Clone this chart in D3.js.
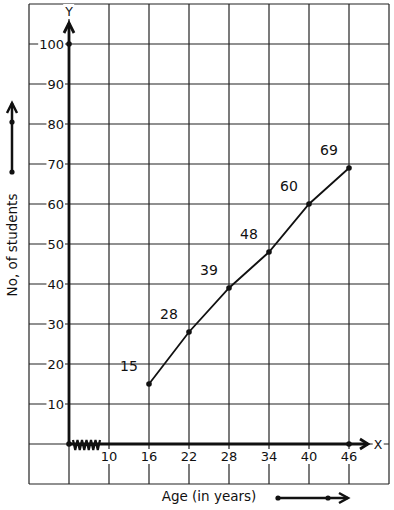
<!DOCTYPE html>
<html>
<head>
<meta charset="utf-8">
<script src="https://cdn.jsdelivr.net/npm/d3@7"></script>
<style>
  body { margin: 0; background: #fff; }
  svg { display: block; font-family: 'DejaVu Sans', sans-serif; }
</style>
</head>
<body>
<svg></svg>
<script>
'use strict';
// Chart data
var ages = [16, 22, 28, 34, 40, 46];
var students = [15, 28, 39, 48, 60, 69];
var xTickLabels = [10, 16, 22, 28, 34, 40, 46];
var yTickLabels = [10, 20, 30, 40, 50, 60, 70, 80, 90, 100];
var xGridValues = [-2, 4, 10, 16, 22, 28, 34, 40, 46, 52];
var yGridValues = [-10, 0, 10, 20, 30, 40, 50, 60, 70, 80, 90, 100, 110];

var canvasWidth = 394;
var canvasHeight = 510;
var ink = '#111';

var svg = d3.select('svg')
  .attr('width', canvasWidth)
  .attr('height', canvasHeight);

var xScale = d3.scaleLinear().domain([-2, 52]).range([29, 389]);
var yScale = d3.scaleLinear().domain([-10, 110]).range([484, 4]);

// grid paper
var grid = svg.append('g').attr('stroke', '#222').attr('stroke-width', 1.2);
grid.selectAll('line.v').data(xGridValues).enter().append('line')
  .attr('class', 'v')
  .attr('x1', function(d) { return xScale(d); })
  .attr('x2', function(d) { return xScale(d); })
  .attr('y1', yScale(110)).attr('y2', yScale(-10));
grid.selectAll('line.h').data(yGridValues).enter().append('line')
  .attr('class', 'h')
  .attr('y1', function(d) { return yScale(d); })
  .attr('y2', function(d) { return yScale(d); })
  .attr('x1', xScale(-2)).attr('x2', xScale(52));

// helper: text with a white box behind it so grid lines are hidden
function boxedText(parent, x, y, txt, anchor, size) {
  var g = parent.append('g');
  var r = g.append('rect').attr('fill', '#fff');
  var t = g.append('text')
    .attr('x', x).attr('y', y)
    .attr('text-anchor', anchor)
    .attr('font-size', size)
    .attr('fill', ink)
    .text(txt);
  var b = t.node().getBBox();
  r.attr('x', b.x - 1).attr('y', b.y).attr('width', b.width + 2).attr('height', b.height);
  return g;
}

// y tick labels
yTickLabels.forEach(function(v) {
  boxedText(svg, xScale(4) - 5, yScale(v) + 4.5, v, 'end', 13);
});
// x tick labels
xTickLabels.forEach(function(v) {
  boxedText(svg, xScale(v), yScale(0) + 17, v, 'middle', 13);
});
boxedText(svg, xScale(4), 16, 'Y', 'middle', 12.5);
boxedText(svg, 378, yScale(0) + 5, 'X', 'middle', 12.5);

// axes
var x0 = xScale(4);
var y0 = yScale(0);
var axes = svg.append('g').attr('stroke', ink).attr('stroke-width', 2.8).attr('fill', 'none');
axes.append('line').attr('x1', x0).attr('x2', x0).attr('y1', y0).attr('y2', 23);
axes.append('path').attr('d', 'M' + (x0 - 5) + ',33L' + x0 + ',23L' + (x0 + 5) + ',33');
axes.append('line').attr('x1', x0).attr('x2', 368).attr('y1', y0).attr('y2', y0);
axes.append('path').attr('d', 'M360,' + (y0 - 5) + 'L368,' + y0 + 'L360,' + (y0 + 5));

// axis break zigzag
var zig = d3.range(0, 13).map(function(i) {
  return [73 + i * 27 / 12, y0 + (i % 2 === 0 ? -4 : 6)];
});
svg.append('path')
  .attr('d', d3.line()(zig))
  .attr('fill', 'none').attr('stroke', ink).attr('stroke-width', 2.2);

// dots on axes
svg.selectAll('circle.ax').data([[4, 0], [4, 100], [46, 0]]).enter().append('circle')
  .attr('class', 'ax')
  .attr('cx', function(d) { return xScale(d[0]); })
  .attr('cy', function(d) { return yScale(d[1]); })
  .attr('r', 2.8).attr('fill', ink);

// data line
var pts = ages.map(function(a, i) { return [a, students[i]]; });
svg.append('path')
  .attr('d', d3.line()
    .x(function(d) { return xScale(d[0]); })
    .y(function(d) { return yScale(d[1]); })(pts))
  .attr('fill', 'none').attr('stroke', ink).attr('stroke-width', 1.8);
svg.selectAll('circle.pt').data(pts).enter().append('circle')
  .attr('class', 'pt')
  .attr('cx', function(d) { return xScale(d[0]); })
  .attr('cy', function(d) { return yScale(d[1]); })
  .attr('r', 2.8).attr('fill', ink);
svg.selectAll('text.val').data(pts).enter().append('text')
  .attr('class', 'val')
  .attr('x', function(d) { return xScale(d[0]) - 20; })
  .attr('y', function(d) { return yScale(d[1]) - 13; })
  .attr('text-anchor', 'middle')
  .attr('font-size', 14)
  .attr('fill', ink)
  .text(function(d) { return d[1]; });

// axis titles
svg.append('text')
  .attr('transform', 'translate(17,245) rotate(-90)')
  .attr('text-anchor', 'middle')
  .attr('font-size', 13.5)
  .attr('fill', ink)
  .text('No, of students');
svg.append('text')
  .attr('x', 209).attr('y', 501)
  .attr('text-anchor', 'middle')
  .attr('font-size', 13.5)
  .attr('fill', ink)
  .text('Age (in years)');

// direction arrows beside the titles
var side = svg.append('g').attr('stroke', ink).attr('stroke-width', 2.5).attr('fill', 'none');
side.append('line').attr('x1', 12).attr('x2', 12).attr('y1', 172).attr('y2', 103);
side.append('path').attr('d', 'M7,113L12,103L17,113');
side.append('line').attr('x1', 278).attr('x2', 348).attr('y1', 498).attr('y2', 498);
side.append('path').attr('d', 'M339,493L348,498L339,503');
svg.selectAll('circle.dir').data([[12, 122], [12, 172], [278, 498], [328, 498]]).enter().append('circle')
  .attr('class', 'dir')
  .attr('cx', function(d) { return d[0]; })
  .attr('cy', function(d) { return d[1]; })
  .attr('r', 2.6).attr('fill', ink);
</script>
</body>
</html>
